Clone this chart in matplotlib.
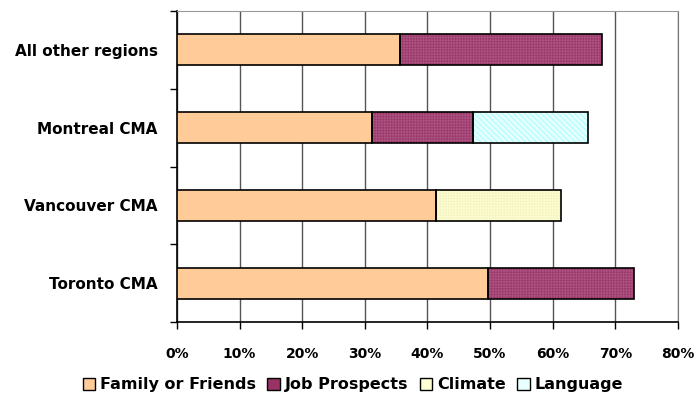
import numpy as np
import matplotlib.pyplot as plt
from matplotlib.patches import Patch

plt.rcParams['font.family'] = ['DejaVu Sans']
plt.rcParams['font.weight'] = 'bold'
plt.rcParams['hatch.linewidth'] = 0.8

regions = ['Toronto CMA', 'Vancouver CMA', 'Montreal CMA', 'All other regions']
family = [49.6, 41.3, 31.2, 35.6]
job = [23.4, 0.0, 16.0, 32.3]
climate = [0.0, 20.0, 0.0, 0.0]
language = [0.0, 0.0, 18.5, 0.0]

series = [
    ('Family or Friends', family, '#FFCC99', None, None),
    ('Job Prospects', job, '#993366', '#A9507E', '++++++'),
    ('Climate', climate, '#FFFFD6', '#F6F6C4', '++++++'),
    ('Language', language, '#E8FFFF', '#A8FFFF', '\\\\\\\\\\\\'),
]

fig = plt.figure(figsize=(6.96, 4.0), dpi=100)
ax = fig.add_axes([0.2543, 0.195, 0.7197, 0.7775])

y = np.arange(len(regions))
left = np.zeros(len(regions))
handles = []
for name, vals, face, hcol, hatch in series:
    vals = np.array(vals)
    mask = vals > 0
    ax.barh(y[mask], vals[mask], left=left[mask], height=0.4,
            color=face, edgecolor='none', zorder=3)
    if hatch:
        ax.barh(y[mask], vals[mask], left=left[mask], height=0.4,
                color='none', edgecolor=hcol, hatch=hatch, linewidth=0, zorder=4)
    ax.barh(y[mask], vals[mask], left=left[mask], height=0.4,
            color='none', edgecolor='black', linewidth=1.2, zorder=5)
    left = left + vals
    handles.append(Patch(facecolor=face, edgecolor='black', linewidth=1))

ax.set_xlim(0, 80)
ax.set_ylim(-0.5, 3.5)
ax.set_xticks(np.arange(0, 81, 10))
ax.set_xticklabels([f'{v}%' for v in range(0, 81, 10)], fontsize=10, fontweight='bold')
ax.set_yticks(y)
ax.set_yticklabels(regions, fontsize=11, fontweight='bold')
ax.set_yticks(np.arange(-0.5, 4, 1), minor=True)
ax.tick_params(axis='y', which='major', length=0, pad=14)
ax.tick_params(axis='y', which='minor', length=5, width=1, color='black')
ax.tick_params(axis='x', length=5, width=1, pad=13)

ax.grid(axis='x', color='#555555', linewidth=1, zorder=0)
ax.spines['top'].set_color('#999999')
ax.spines['right'].set_color('#777777')
ax.spines['left'].set_linewidth(1.2)
ax.spines['bottom'].set_linewidth(1.2)

fig.legend(handles, [s[0] for s in series], loc='center', bbox_to_anchor=(0.507, 0.038),
           ncol=4, frameon=False, handlelength=0.8, handleheight=0.8,
           handletextpad=0.3, columnspacing=0.7, prop={'weight': 'bold', 'size': 11.5})

fig.savefig('out.png', dpi=100)
